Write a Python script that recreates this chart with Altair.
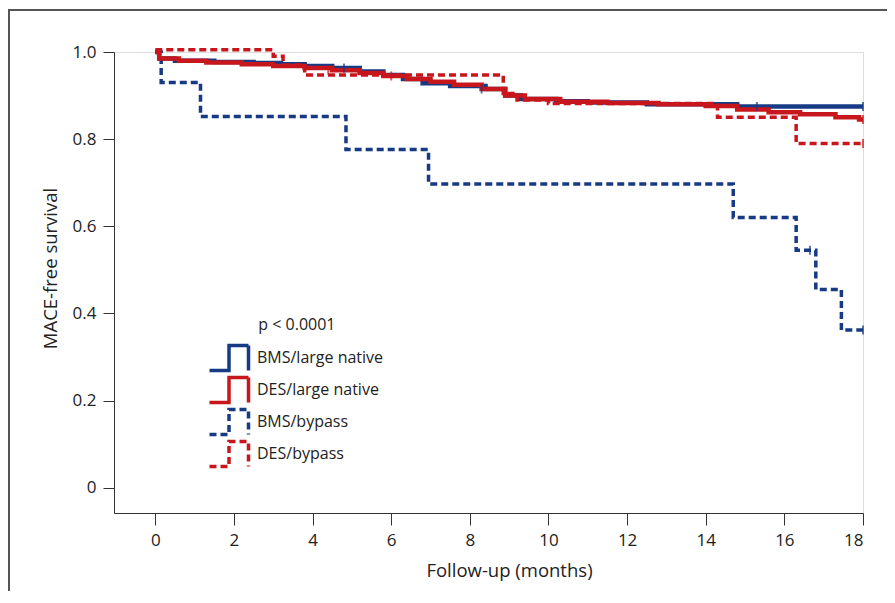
import altair as alt
import pandas as pd

# ---------------- data ----------------
series_names = ["BMS/large native", "DES/large native", "BMS/bypass", "DES/bypass"]

bms_native_t = [0, 0.1, 0.5, 1.5, 2.5, 3.2, 3.8, 4.5, 5.2, 5.8, 6.3, 6.8, 7.5, 8.4, 8.9, 9.3, 10.2, 11.0, 12.5, 14.8, 18]
bms_native_s = [1.0, 0.985, 0.98, 0.977, 0.975, 0.972, 0.968, 0.963, 0.955, 0.947, 0.938, 0.928, 0.922, 0.915, 0.90, 0.892, 0.887, 0.884, 0.880, 0.875, 0.875]

des_native_t = [0, 0.1, 0.6, 1.3, 2.2, 3.0, 3.8, 4.5, 5.2, 5.8, 6.4, 7.0, 7.6, 8.3, 8.9, 9.4, 10.3, 11.5, 12.8, 14.0, 14.8, 15.6, 16.4, 17.3, 17.9, 18]
des_native_s = [1.0, 0.985, 0.98, 0.976, 0.972, 0.968, 0.963, 0.958, 0.952, 0.945, 0.938, 0.932, 0.925, 0.915, 0.90, 0.892, 0.886, 0.883, 0.880, 0.876, 0.868, 0.862, 0.857, 0.850, 0.845, 0.845]

bms_bypass_t = [0, 0.15, 1.15, 4.85, 6.95, 14.7, 16.3, 16.8, 17.45, 18]
bms_bypass_s = [1.0, 0.93, 0.852, 0.776, 0.697, 0.62, 0.545, 0.455, 0.362, 0.362]

des_bypass_t = [0, 3.0, 3.25, 3.8, 8.85, 9.2, 10.0, 14.3, 16.3, 18]
des_bypass_s = [1.005, 0.99, 0.97, 0.947, 0.905, 0.89, 0.882, 0.85, 0.79, 0.79]

# censored observations (+ marks)
cens_series = ["BMS/large native", "BMS/large native", "BMS/large native", "BMS/large native",
               "DES/large native", "DES/large native", "DES/large native",
               "DES/bypass", "BMS/bypass", "BMS/bypass"]
cens_t = [4.8, 8.3, 15.3, 18, 4.4, 6.0, 18, 18, 16.65, 18]
cens_s = [0.963, 0.915, 0.875, 0.875, 0.958, 0.945, 0.845, 0.79, 0.545, 0.362]

x_ticks = [0, 2, 4, 6, 8, 10, 12, 14, 16, 18]
y_ticks = [0, 0.2, 0.4, 0.6, 0.8, 1.0]

p_text = ["p < 0.0001"]
p_x = [2.62]
p_y = [0.374]

# ---------------- styles ----------------
NAVY = "#173a85"
RED = "#c8161d"
color_range = [NAVY, RED, NAVY, RED]
dash_range = [[1, 0], [1, 0], [7, 4], [7, 4]]
FONT = "Open Sans"

rows = []
for name, ts, ss in [
    ("BMS/large native", bms_native_t, bms_native_s),
    ("DES/large native", des_native_t, des_native_s),
    ("BMS/bypass", bms_bypass_t, bms_bypass_s),
    ("DES/bypass", des_bypass_t, des_bypass_s),
]:
    for t, s in zip(ts, ss):
        rows.append({"series": name, "t": t, "s": s})
df = pd.DataFrame(rows)
cens_df = pd.DataFrame({"series": cens_series, "t": cens_t, "s": cens_s})
p_df = pd.DataFrame({"label": p_text, "t": p_x, "s": p_y})

xscale = alt.Scale(domain=[-1.05, 18], nice=False, zero=False)
yscale = alt.Scale(domain=[-0.058, 1.0], nice=False, zero=False)

legend_path = "M -1.95 1.25 H 0 V -1.25 H 1.95 V 1.25"
leg = alt.Legend(
    title=None, orient="none", legendX=103, legendY=294,
    symbolType=legend_path, symbolSize=400, symbolStrokeWidth=3.5,
    symbolFillColor="transparent", labelFontSize=16, labelFont=FONT,
    labelColor="#222222", labelOffset=16, rowPadding=-13, padding=0,
)

x_enc = alt.X("t:Q", scale=xscale, axis=alt.Axis(
    values=x_ticks, title="Follow-up (months)", grid=False,
    tickSize=12, labelPadding=7, labelFontSize=17, labelFont=FONT,
    titleFontSize=18.5, titleFont=FONT, titleFontWeight="normal",
    titleX=395, titleY=57, titleBaseline="middle",
    domainColor="#333333", tickColor="#333333", labelColor="#222222", titleColor="#222222",
))
y_enc = alt.Y("s:Q", scale=yscale, axis=alt.Axis(
    values=y_ticks, title="MACE-free survival", grid=False,
    labelExpr="datum.value == 0 ? '0' : format(datum.value, '.1f')",
    tickSize=11, labelPadding=7, labelFontSize=17, labelFont=FONT,
    titleFontSize=18.5, titleFont=FONT, titleFontWeight="normal",
    titleX=-64, titleY=216, titleBaseline="middle", titleAngle=-90,
    domainColor="#333333", tickColor="#333333", labelColor="#222222", titleColor="#222222",
))
color_enc = alt.Color("series:N", scale=alt.Scale(domain=series_names, range=color_range), legend=leg)
dash_enc = alt.StrokeDash("series:N", scale=alt.Scale(domain=series_names, range=dash_range), legend=leg)

frame = alt.Chart(pd.DataFrame({"k": [0]})).mark_rect(
    filled=False, stroke="#555555", strokeWidth=2
).encode(x=alt.value(-105), x2=alt.value(900), y=alt.value(-42), y2=alt.value(700))

layers = [frame]
for name, w in [("BMS/bypass", 3.5), ("BMS/large native", 4.5), ("DES/large native", 4.5), ("DES/bypass", 3.5)]:
    layers.append(
        alt.Chart(df).transform_filter(alt.datum.series == name)
        .mark_line(interpolate="step-after", strokeWidth=w)
        .encode(x=x_enc, y=y_enc, color=color_enc, strokeDash=dash_enc)
    )

for name, col in [("BMS/bypass", NAVY), ("BMS/large native", NAVY), ("DES/large native", RED), ("DES/bypass", RED)]:
    layers.append(
        alt.Chart(cens_df).transform_filter(alt.datum.series == name)
        .mark_tick(orient="vertical", size=9, thickness=2, color=col)
        .encode(x=alt.X("t:Q", scale=xscale), y=alt.Y("s:Q", scale=yscale))
    )

layers.append(
    alt.Chart(p_df).mark_text(align="left", baseline="middle", fontSize=16, font=FONT, color="#222222")
    .encode(x=alt.X("t:Q", scale=xscale), y=alt.Y("s:Q", scale=yscale), text="label:N")
)

chart = alt.layer(*layers).properties(
    width=749, height=461,
    autosize=alt.AutoSizeParams(type="none"),
    padding={"left": 106, "top": 44, "right": 24, "bottom": 78},
).configure_view(stroke=None).configure(background="white")

chart.save("out.html", embed_options={"renderer": "svg", "actions": False})
